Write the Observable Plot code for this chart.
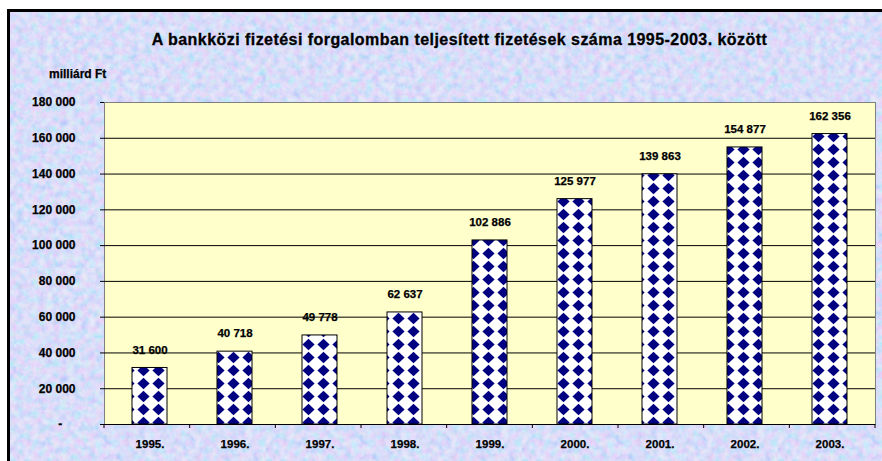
<!DOCTYPE html>
<html>
<head>
<meta charset="utf-8">
<script src="https://cdn.jsdelivr.net/npm/d3@7"></script>
<script src="https://cdn.jsdelivr.net/npm/@observablehq/plot@0.6"></script>
<style>
  html, body { margin: 0; padding: 0; background: #fff; }
  body { width: 882px; height: 461px; overflow: hidden; position: relative; font-family: "Liberation Sans", Arial, sans-serif; }
  #bg {
    position: absolute; left: 7px; top: 9px; width: 880px; height: 460px;
    border-left: 3px solid #000; border-top: 3px solid #000;
    background-color: #c6d0f4;
    background-image: url("data:image/svg+xml,%3Csvg xmlns='http://www.w3.org/2000/svg' width='256' height='256'%3E%3Cfilter id='n'%3E%3CfeTurbulence type='fractalNoise' baseFrequency='0.14' numOctaves='3' seed='7'/%3E%3CfeColorMatrix type='matrix' values='1.3 0 0 0 0.15  0 0.7 0 0 0.45  0 0 0.4 0 0.8  0 0 0 0 0.55'/%3E%3C/filter%3E%3Crect width='256' height='256' filter='url(%23n)'/%3E%3C/svg%3E");
  }
  #title { position: absolute; left: 0; width: 919px; top: 31px; text-align: center; font-weight: bold; font-size: 16px; letter-spacing: 0.45px; line-height: 18px; color: #000; -webkit-text-stroke: 0.3px #000; }
  #unit { position: absolute; left: 49px; top: 67px; font-weight: bold; font-size: 12px; line-height: 14px; color: #000; -webkit-text-stroke: 0.25px #000; }
  #chart { position: absolute; left: 0; top: 0; }
  #chart svg text { stroke: #000; stroke-width: 0.25px; }
</style>
</head>
<body>
<div id="bg"></div>
<div id="title">A bankközi fizetési forgalomban teljesített fizetések száma 1995-2003. között</div>
<div id="unit">milliárd Ft</div>
<div id="chart"></div>
<script>
const years = ["1995.", "1996.", "1997.", "1998.", "1999.", "2000.", "2001.", "2002.", "2003."];
const values = [31600, 40718, 49778, 62637, 102886, 125977, 139863, 154877, 162356];
const yTicks = [0, 20000, 40000, 60000, 80000, 100000, 120000, 140000, 160000, 180000];

const data = years.map((year, i) => ({year, value: values[i]}));
const fmt = v => d3.format(",")(v).replace(/,/g, " ");
const fmtY = v => v === 0 ? "-\u00a0\u00a0\u00a0\u00a0" : fmt(v);

const boundaryTicks = (index, scales, values, dims) => {
  const g = d3.create("svg:g").attr("stroke", "#000");
  const n = years.length;
  const x0 = dims.marginLeft, x1 = dims.width - dims.marginRight;
  const yb = dims.height - dims.marginBottom;
  const step = (x1 - x0) / n;
  for (let i = 0; i <= n; i++) {
    const x = x0 + i * step;
    g.append("line").attr("x1", x).attr("x2", x).attr("y1", yb).attr("y2", yb + 4);
  }
  return g.node();
};

const chart = Plot.plot({
  width: 882,
  height: 461,
  marginLeft: 104,
  marginRight: 7,
  marginTop: 102,
  marginBottom: 37,
  style: {background: "transparent", fontFamily: "'Liberation Sans', Arial, sans-serif", fontSize: "11.5px", fontWeight: "bold", color: "#000"},
  x: {domain: years, paddingInner: 0.59, paddingOuter: 0.295, label: null},
  y: {domain: [0, 180000], label: null},
  marks: [
    Plot.frame({fill: "#FFFFCC", stroke: "#808080"}),
    Plot.gridY(yTicks.filter(t => t > 0 && t < 180000), {stroke: "#000", strokeOpacity: 1}),
    Plot.barY(data, {x: "year", y: "value", fill: "url(#diam)", stroke: "#000", strokeWidth: 1}),
    Plot.ruleY([0], {stroke: "#000"}),
    Plot.axisY(yTicks, {tickSize: 4, tickPadding: 25, tickFormat: fmtY, stroke: "#000", fill: "#000", fontSize: 12}),
    Plot.axisX({tickSize: 0, tickPadding: 15, fill: "#000", fontSize: 11.5}),
    boundaryTicks,
    Plot.text(data, {x: "year", y: "value", text: d => fmt(d.value), dy: -18, fontWeight: "bold", fontSize: 11.5, fill: "#000"})
  ]
});

const defs = d3.create("svg:defs");
const blur = defs.append("filter").attr("id", "soft").attr("x", -0.2).attr("y", -0.2).attr("width", 1.4).attr("height", 1.4);
blur.append("feGaussianBlur").attr("stdDeviation", 0.5);
const pat = defs.append("pattern").attr("id", "diam").attr("patternUnits", "userSpaceOnUse")
  .attr("x", 1).attr("y", 0).attr("width", 15).attr("height", 13);
pat.append("rect").attr("width", 15).attr("height", 13).attr("fill", "#fff");
pat.append("polygon").attr("points", "7.5,0.8 13.6,6.5 7.5,12.2 1.4,6.5").attr("fill", "#000080").attr("filter", "url(#soft)");
chart.insertBefore(defs.node(), chart.firstChild);

document.getElementById("chart").appendChild(chart);
</script>
</body>
</html>
